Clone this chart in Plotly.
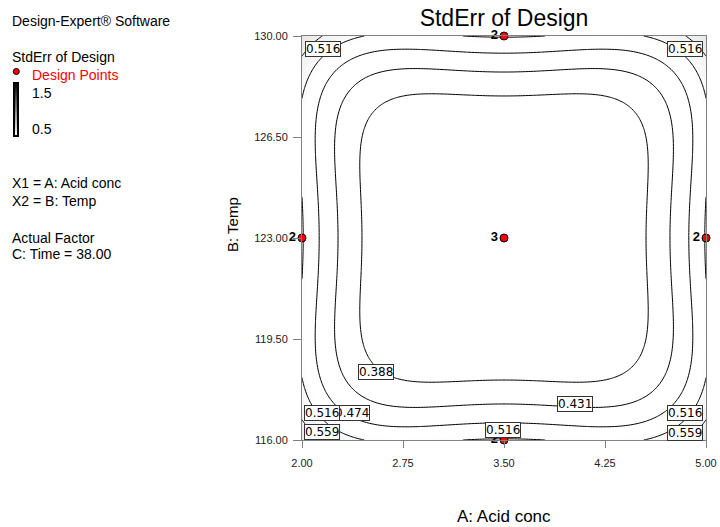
import base64
import numpy as np
import plotly.graph_objects as go

# ---------------- data ----------------
acid_range = [2.0, 5.0]          # A: Acid conc
temp_range = [116.0, 130.0]      # B: Temp
x_tickvals = [2.0, 2.75, 3.5, 4.25, 5.0]
x_ticktext = ["2.00", "2.75", "3.50", "4.25", "5.00"]
y_tickvals = [116.0, 119.5, 123.0, 126.5, 130.0]
y_ticktext = ["116.00", "119.50", "123.00", "126.50", "130.00"]

design_acid = [2.0, 5.0, 3.5, 3.5, 3.5]
design_temp = [123.0, 123.0, 116.0, 130.0, 123.0]
design_count = ["2", "2", "2", "2", "3"]

contour_levels = [0.388, 0.431, 0.474, 0.516, 0.559]

var_terms = ["1", "A^2+B^2", "A^4+B^4", "A^2*B^2", "A^2*B^4+A^4*B^2"]
var_coefs = [0.0989, 0.0392, 0.132, -0.1817, 0.0486]

colorbar_range = [0.5, 1.5]
colorbar_labels = ["1.5", "0.5"]

# contour label placement: (level index, A, B)
label_level_idx = [3, 3, 0, 1, 2, 3, 4, 3, 4, 3]
label_acid = [2.156, 4.846, 2.546, 4.027, 2.368, 2.152, 2.152, 4.846, 4.846, 3.491]
label_temp = [129.55, 129.55, 118.34, 117.26, 116.92, 116.92, 116.28, 116.94, 116.26, 116.36]

# ---------------- surface ----------------
ga = np.linspace(acid_range[0], acid_range[1], 151)
gb = np.linspace(temp_range[0], temp_range[1], 151)
A, B = np.meshgrid(ga, gb)
a_mid, a_half = (acid_range[0] + acid_range[1]) / 2, (acid_range[1] - acid_range[0]) / 2
b_mid, b_half = (temp_range[0] + temp_range[1]) / 2, (temp_range[1] - temp_range[0]) / 2
xc2 = ((A - a_mid) / a_half) ** 2
yc2 = ((B - b_mid) / b_half) ** 2
c0, c1, c2, c3, c4 = var_coefs
var = (c0 + c1 * (xc2 + yc2) + c2 * (xc2**2 + yc2**2) + c3 * xc2 * yc2
       + c4 * (xc2 * yc2**2 + xc2**2 * yc2))
se = np.sqrt(var)

W, H = 720, 527
L, R, T, Bm = 302, 14, 36, 87
pw, ph = W - L - R, H - T - Bm


def px(xp):
    return (xp - L) / pw


def py(yp):
    return (H - Bm - yp) / ph


FONT = "Liberation Sans, Arial, sans-serif"
GRAYSCALE = [[0, "white"], [1, "black"]]

fig = go.Figure()
step = (contour_levels[-1] - contour_levels[0]) / (len(contour_levels) - 1)
fig.add_trace(go.Contour(
    x=ga, y=gb, z=se,
    zmin=colorbar_range[0], zmax=colorbar_range[1],
    colorscale=GRAYSCALE,
    autocontour=False,
    contours=dict(coloring="heatmap", start=contour_levels[0],
                  end=contour_levels[-1] + 1e-4, size=step, showlabels=False),
    line=dict(color="black", width=1, smoothing=1),
    showscale=False,
    hoverinfo="skip",
))

fig.add_trace(go.Scatter(
    x=design_acid, y=design_temp, mode="markers+text",
    text=design_count, textposition="middle left",
    textfont=dict(family=FONT, size=13, color="black", weight="bold"),
    marker=dict(color="#ff0000", size=8, line=dict(color="black", width=1)),
    cliponaxis=False, showlegend=False, hoverinfo="skip",
))

annotations = []
for idx, la, lt in zip(label_level_idx, label_acid, label_temp):
    annotations.append(dict(
        x=la, y=lt, xref="x", yref="y", text=f"{contour_levels[idx]:.3f}",
        showarrow=False, font=dict(family="DejaVu Sans, sans-serif", size=12, color="black"),
        bgcolor="white", bordercolor="#333333", borderwidth=1, borderpad=0,
    ))

LEFT_SIZE = 14
left_texts = [
    ("Design-Expert® Software", 21, "black"),
    ("StdErr of Design", 57, "black"),
    ("Design Points", 75, "#ff0000"),
    ("X1 = A: Acid conc", 183, "black"),
    ("X2 = B: Temp", 201, "black"),
    ("Actual Factor", 237.5, "black"),
    ("C: Time = 38.00", 254, "black"),
]
for txt, yy, col in left_texts:
    xx = 30 if txt == "Design Points" else 10
    annotations.append(dict(x=px(xx), y=py(yy), xref="paper", yref="paper", text=txt,
                            showarrow=False, xanchor="left", yanchor="middle",
                            font=dict(family=FONT, size=LEFT_SIZE, color=col)))
for txt, yy in zip(colorbar_labels, [93, 128.5]):
    annotations.append(dict(x=px(30), y=py(yy), xref="paper", yref="paper", text=txt,
                            showarrow=False, xanchor="left", yanchor="middle",
                            font=dict(family=FONT, size=LEFT_SIZE, color="black")))

annotations.append(dict(x=0.5, y=py(516), xref="paper", yref="paper", text="A: Acid conc",
                        showarrow=False, xanchor="center", yanchor="middle",
                        font=dict(family=FONT, size=17, color="black")))
annotations.append(dict(x=px(232), y=py(225), xref="paper", yref="paper", text="B: Temp",
                        showarrow=False, xanchor="center", yanchor="middle", textangle=-90,
                        font=dict(family=FONT, size=15, color="black")))

shapes = [dict(type="circle", xref="paper", yref="paper",
               x0=px(13.3), x1=px(19.3), y0=py(74.5), y1=py(68.5),
               fillcolor="#ff0000", line=dict(color="black", width=1))]

# grey-scale key (0.5 -> white, 1.5 -> black) as a small gradient image
svg = ('<svg xmlns="http://www.w3.org/2000/svg" width="6" height="55" viewBox="0 0 6 55" '
       'preserveAspectRatio="none"><defs><linearGradient id="g" x1="0" y1="0" x2="0" y2="1">'
       f'<stop offset="0" stop-color="{GRAYSCALE[1][1]}"/><stop offset="1" stop-color="{GRAYSCALE[0][1]}"/>'
       '</linearGradient></defs><rect x="1" y="1" width="4" height="53" fill="url(#g)" '
       'stroke="black" stroke-width="2"/></svg>')
svg_uri = "data:image/svg+xml;base64," + base64.b64encode(svg.encode()).decode()
images = [dict(source=svg_uri, xref="paper", yref="paper", x=px(13), y=py(82),
               sizex=6 / pw, sizey=55 / ph, xanchor="left", yanchor="top",
               sizing="stretch", layer="above")]

axis_common = dict(showgrid=False, zeroline=False, showline=True, linecolor="#808080",
                   linewidth=1, mirror=True, ticks="outside", tickcolor="#808080",
                   tickfont=dict(family=FONT, size=11, color="#222222"))

fig.update_layout(
    width=W, height=H,
    margin=dict(l=L, r=R, t=T, b=Bm, pad=0, autoexpand=False),
    paper_bgcolor="white", plot_bgcolor="white",
    title=dict(text="StdErr of Design", x=0.5, xref="paper", xanchor="center",
               y=1 - 18 / H, yref="container", yanchor="middle",
               font=dict(family=FONT, size=23, color="black")),
    xaxis=dict(range=acid_range, tickvals=x_tickvals, ticktext=x_ticktext,
               ticklen=7, ticklabelstandoff=6, **axis_common),
    yaxis=dict(range=temp_range, tickvals=y_tickvals, ticktext=y_ticktext,
               ticklen=8, ticklabelstandoff=3, **axis_common),
    annotations=annotations,
    shapes=shapes,
    images=images,
    showlegend=False,
)

fig.write_html("out.html")
